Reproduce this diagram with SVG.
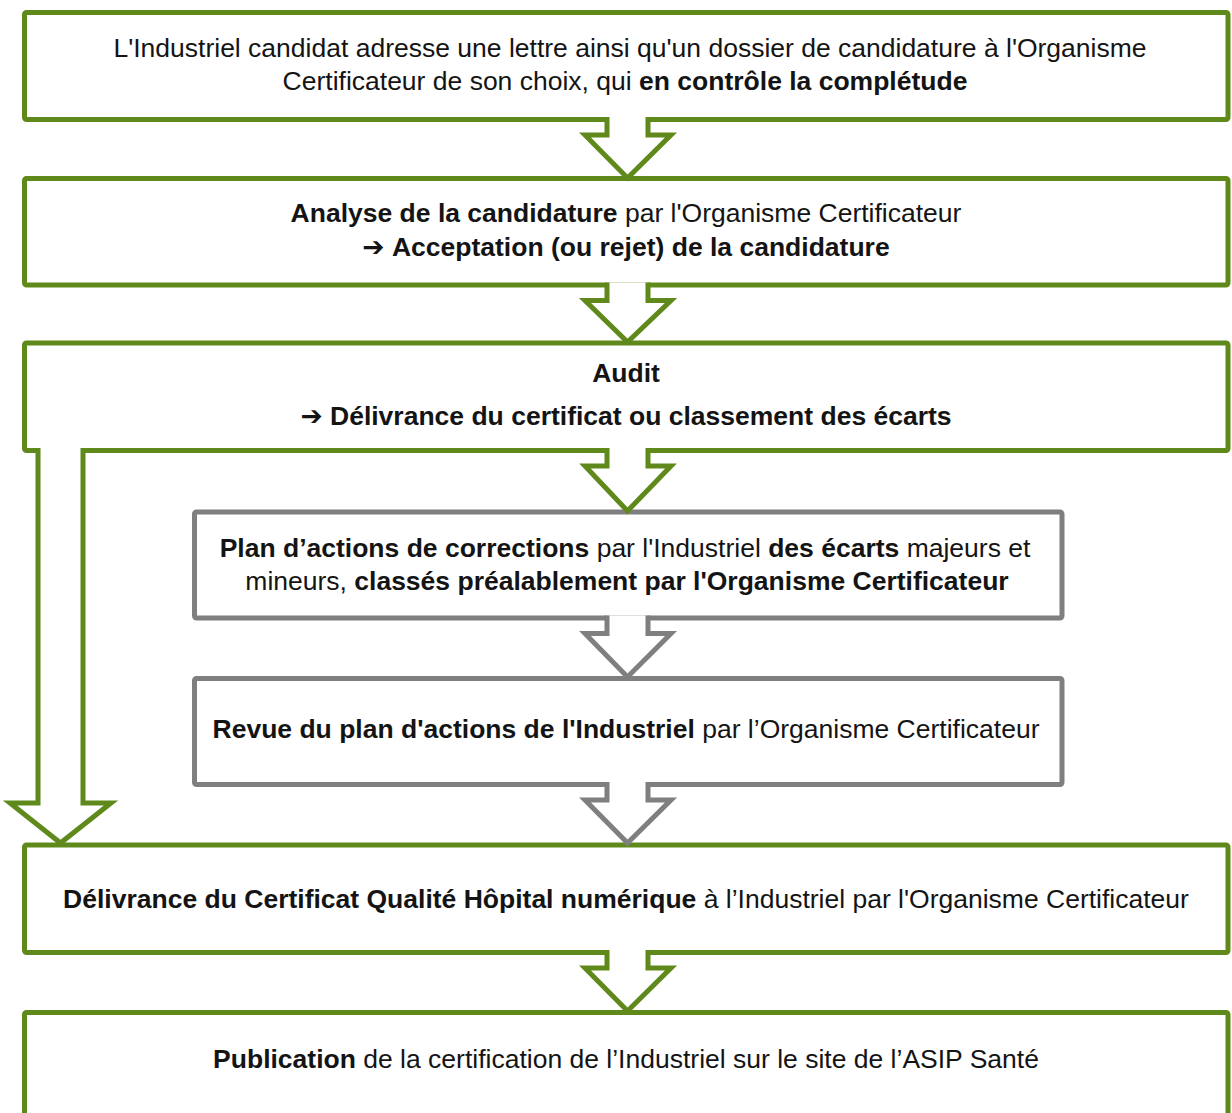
<svg xmlns="http://www.w3.org/2000/svg" width="1232" height="1113" viewBox="0 0 1232 1113">
<style>
.g{fill:#fff;stroke:#5F8A1B;stroke-width:5;stroke-linejoin:miter}
.k{fill:#fff;stroke:#7F7F7F;stroke-width:5;stroke-linejoin:miter}
text{font-family:"Liberation Sans",Arial,sans-serif;font-size:26.5px;fill:#141414;text-anchor:middle}
.b{font-weight:bold}
.ar{font-family:"DejaVu Sans",sans-serif;font-weight:bold}
</style>
<rect width="1232" height="1113" fill="#fff"/>
<g id="box1"><rect class="g" x="24.5" y="12.5" width="1203.5" height="107" rx="2"/>
<text x="630" y="57">L'Industriel candidat adresse une lettre ainsi qu'un dossier de candidature à l'Organisme</text>
<text x="625" y="90">Certificateur de son choix, qui <tspan class="b">en contrôle la complétude</tspan></text></g>
<g id="box2"><rect class="g" x="24.5" y="178.5" width="1203.5" height="106.5" rx="2"/>
<text x="626" y="222"><tspan class="b">Analyse de la candidature</tspan> par l'Organisme Certificateur</text>
<text x="626" y="256"><tspan class="ar">➔</tspan> <tspan class="b">Acceptation (ou rejet) de la candidature</tspan></text></g>
<g id="box3"><rect class="g" x="24.5" y="343" width="1203.5" height="107.5" rx="2"/>
<text x="626" y="382" class="b">Audit</text>
<text x="626" y="425"><tspan class="ar">➔</tspan> <tspan class="b">Délivrance du certificat ou classement des écarts</tspan></text></g>
<g id="box4"><rect class="k" x="194.5" y="512" width="867.5" height="106" rx="2"/>
<text x="625" y="557"><tspan class="b">Plan d’actions de corrections</tspan> par l'Industriel <tspan class="b">des écarts</tspan> majeurs et</text>
<text x="627" y="590">mineurs, <tspan class="b">classés préalablement par l'Organisme Certificateur</tspan></text></g>
<g id="box5"><rect class="k" x="194.5" y="678.5" width="867.5" height="106" rx="2"/>
<text x="626" y="738"><tspan class="b">Revue du plan d'actions de l'Industriel</tspan> par l’Organisme Certificateur</text></g>
<g id="box6"><rect class="g" x="24.5" y="845" width="1203.5" height="107.5" rx="2"/>
<text x="626" y="908"><tspan class="b">Délivrance du Certificat Qualité Hôpital numérique</tspan> à l’Industriel par l'Organisme Certificateur</text></g>
<g id="box7"><rect class="g" x="24.5" y="1012.5" width="1203.5" height="120" rx="2"/>
<text x="626" y="1068"><tspan class="b">Publication</tspan> de la certification de l’Industriel sur le site de l’ASIP Santé</text></g>
<g id="connectors">
<path class="g" d="M607,117 V135 H585 L627.5,178 L671,135 H648 V117"/>
<path class="g" d="M607,282.5 V300.5 H585 L627.5,342 L671,300.5 H648 V282.5"/>
<path class="g" d="M607,448 V466 H585 L627.5,511 L671,466 H648 V448"/>
<path class="k" d="M607,615.5 V633.5 H585 L627.5,677 L671,633.5 H648 V615.5"/>
<path class="k" d="M607,782 V800 H585 L627.5,843 L671,800 H648 V782"/>
<path class="g" d="M607,950 V968 H585 L627.5,1011 L671,968 H648 V950"/>
<path class="g" d="M38,448 V803 H10 L60.5,843 L111,803 H83 V448"/>
</g>
</svg>
